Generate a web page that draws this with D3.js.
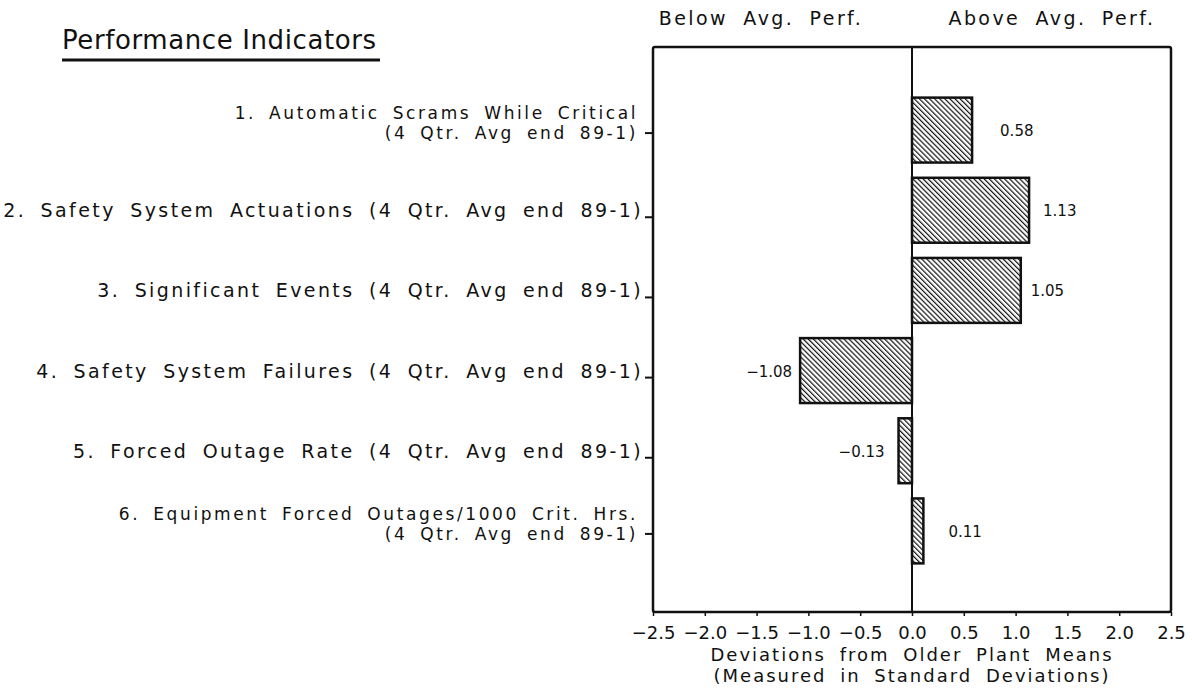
<!DOCTYPE html>
<html>
<head>
<meta charset="utf-8">
<script src="https://cdn.jsdelivr.net/npm/d3@7"></script>
<style>
  html, body { margin: 0; padding: 0; background: #fff; }
  svg { display: block; }
  text { font-family: "DejaVu Sans", sans-serif; fill: #111; }
</style>
</head>
<body>
<svg id="chart" width="1192" height="689"></svg>
<script>
// ---- data ----
const categories = [
  "1. Automatic Scrams While Critical\n(4 Qtr. Avg end 89-1)",
  "2. Safety System Actuations (4 Qtr. Avg end 89-1)",
  "3. Significant Events (4 Qtr. Avg end 89-1)",
  "4. Safety System Failures (4 Qtr. Avg end 89-1)",
  "5. Forced Outage Rate (4 Qtr. Avg end 89-1)",
  "6. Equipment Forced Outages/1000 Crit. Hrs.\n(4 Qtr. Avg end 89-1)"
];
const values = [0.58, 1.13, 1.05, -1.08, -0.13, 0.11];
const valueLabels = ["0.58", "1.13", "1.05", "\u22121.08", "\u22120.13", "0.11"];
const xTicks = [-2.5, -2.0, -1.5, -1.0, -0.5, 0.0, 0.5, 1.0, 1.5, 2.0, 2.5];
const title = "Performance Indicators";
const sideLabels = ["Below Avg. Perf.", "Above Avg. Perf."];
const xTitle = ["Deviations from Older Plant Means", "(Measured in Standard Deviations)"];

// ---- layout (style only) ----
const box = { left: 653, right: 1171, top: 47, bottom: 612 };
const labelGap = [28, 14, 10, 8, 14, 25];

const svg = d3.select("#chart");
const x = d3.scaleLinear().domain([-2.5, 2.5]).range([box.left, box.right]);
const y = d3.scaleBand().domain(categories).range([90, 571]).paddingInner(0.19).paddingOuter(0.095);

// hatch pattern
const defs = svg.append("defs");
const pat = defs.append("pattern")
  .attr("id", "hatch").attr("patternUnits", "userSpaceOnUse")
  .attr("width", 3.6).attr("height", 3.6)
  .attr("patternTransform", "rotate(-45)");
pat.append("rect").attr("width", 3.6).attr("height", 3.6).attr("fill", "#fff");
pat.append("line").attr("x1", 0).attr("y1", 0).attr("x2", 0).attr("y2", 3.6)
  .attr("stroke", "#111").attr("stroke-width", 2.4);

// title
svg.append("text").attr("x", 62).attr("y", 49)
  .style("font-size", "26px").style("letter-spacing", "0.6px")
  .text(title);
svg.append("line").attr("x1", 62).attr("x2", 380).attr("y1", 60).attr("y2", 60)
  .attr("stroke", "#111").attr("stroke-width", 3);

// side labels
svg.selectAll("text.side").data(sideLabels).join("text")
  .attr("class", "side")
  .attr("x", (d, i) => i === 0 ? 761 : 1052)
  .attr("y", 25)
  .attr("text-anchor", "middle")
  .style("font-size", "19px").style("letter-spacing", "2.4px").style("word-spacing", "7px")
  .text(d => d);

// bars
svg.append("g").selectAll("rect").data(values).join("rect")
  .attr("x", d => x(Math.min(0, d)))
  .attr("width", d => Math.abs(x(d) - x(0)))
  .attr("y", (d, i) => y(categories[i]))
  .attr("height", y.bandwidth())
  .attr("fill", "url(#hatch)")
  .attr("stroke", "#111").attr("stroke-width", 2.5);

// zero line
svg.append("line").attr("x1", x(0)).attr("x2", x(0))
  .attr("y1", box.top).attr("y2", box.bottom)
  .attr("stroke", "#111").attr("stroke-width", 2);

// box
svg.append("rect").attr("x", box.left).attr("y", box.top)
  .attr("width", box.right - box.left).attr("height", box.bottom - box.top)
  .attr("fill", "none").attr("stroke", "#111").attr("stroke-width", 2.5)
  .attr("rx", 2);

// value labels
svg.append("g").selectAll("text").data(values).join("text")
  .attr("x", (d, i) => d >= 0 ? x(d) + labelGap[i] : x(d) - labelGap[i])
  .attr("y", (d, i) => y(categories[i]) + y.bandwidth() / 2 + 6)
  .attr("text-anchor", d => d >= 0 ? "start" : "end")
  .style("font-size", "15px")
  .text((d, i) => valueLabels[i]);

// x axis
const xAxis = svg.append("g")
  .attr("transform", `translate(0,${box.bottom})`)
  .call(d3.axisBottom(x).tickValues(xTicks).tickSize(4).tickPadding(10)
    .tickFormat(d3.format(".1f")));
xAxis.select(".domain").remove();
xAxis.selectAll(".tick line").attr("stroke", "#111").attr("stroke-width", 1.5);
xAxis.selectAll(".tick text").style("font-size", "18px")
  .style("font-family", "DejaVu Sans, sans-serif").attr("fill", "#111");

// x title
svg.selectAll("text.xt").data(xTitle).join("text")
  .attr("class", "xt")
  .attr("x", x(0)).attr("y", (d, i) => 661 + i * 21)
  .attr("text-anchor", "middle")
  .style("font-size", "18px").style("letter-spacing", "2.0px").style("word-spacing", "6px")
  .text(d => d);

// y labels
const yg = svg.append("g");
categories.forEach(c => {
  const lines = c.split("\n");
  const cy = y(c) + y.bandwidth() / 2;
  const two = lines.length > 1;
  const t = yg.append("text").attr("text-anchor", "end")
    .style("font-size", two ? "17px" : "19px")
    .style("letter-spacing", two ? "2.6px" : "2.4px")
    .style("word-spacing", two ? "5px" : "6px");
  lines.forEach((ln, k) => {
    t.append("tspan").attr("x", two ? 638 : 643)
      .attr("y", two ? cy - 11 + k * 20 : cy + 7)
      .text(ln);
  });
  const ty = two ? cy + 3 : cy + 7;
  yg.append("line").attr("x1", 645).attr("x2", box.left).attr("y1", ty).attr("y2", ty)
    .attr("stroke", "#111").attr("stroke-width", 2);
});
</script>
</body>
</html>
